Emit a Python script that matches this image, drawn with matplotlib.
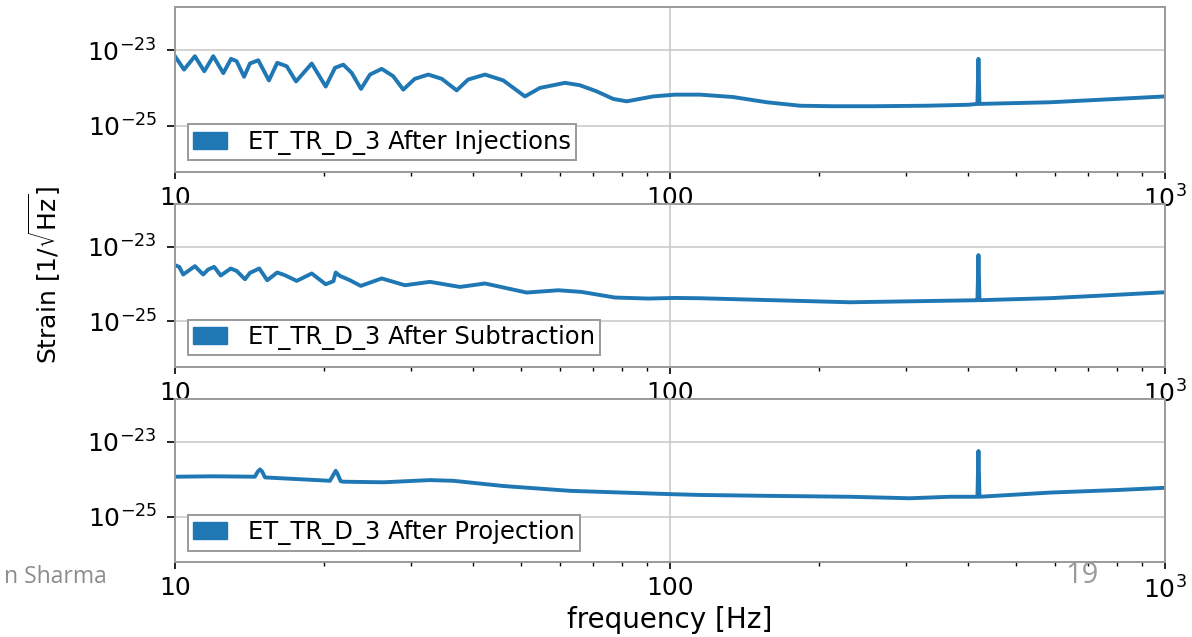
import matplotlib
matplotlib.use('Agg')
import matplotlib.pyplot as plt
from matplotlib.patches import Patch
from matplotlib.ticker import NullLocator

# frequency [Hz] / strain [1/sqrt(Hz)]
f_inj = [10, 10.43, 10.97, 11.46, 11.95, 12.52, 12.98, 13.32, 13.79, 14.17,
         14.73, 15.48, 16.09, 16.82, 17.56, 18.89, 20.16, 21.05, 21.88, 22.75,
         23.76, 24.77, 26.16, 27.6, 28.92, 30.5, 32.49, 34.6, 37.08, 39.1,
         42.3, 46.06, 50.94, 54.6, 61.38, 65.8, 71.1, 76.8, 81.75, 92.4,
         102.3, 115, 134, 157, 183, 213, 260, 330, 400, 418,
         420, 422, 586, 739, 1000]
h_inj = [7.05e-24, 3.1e-24, 7.05e-24, 2.8e-24, 7.05e-24, 2.5e-24, 6.0e-24, 5.2e-24, 2.0e-24, 4.5e-24,
         5.5e-24, 1.6e-24, 4.7e-24, 3.8e-24, 1.5e-24, 4.5e-24, 1.1e-24, 3.46e-24, 4.2e-24, 2.54e-24,
         9.5e-25, 2.29e-24, 3.25e-24, 2.07e-24, 9.1e-25, 1.76e-24, 2.29e-24, 1.76e-24, 8.7e-25, 1.69e-24,
         2.29e-24, 1.6e-24, 6.0e-25, 1.01e-24, 1.38e-24, 1.19e-24, 8.2e-25, 5.15e-25, 4.45e-25, 6.0e-25,
         6.7e-25, 6.7e-25, 5.8e-25, 4.2e-25, 3.4e-25, 3.3e-25, 3.3e-25, 3.4e-25, 3.6e-25, 3.8e-25,
         6.0e-24, 3.8e-25, 4.2e-25, 4.9e-25, 6.0e-25]

f_sub = [10, 10.2, 10.39, 10.97, 11.4, 11.67, 12.0, 12.37, 12.96, 13.32,
         13.85, 14.17, 14.8, 15.36, 16.09, 16.68, 17.62, 18.89, 20.16, 20.9,
         21.12, 21.54, 22.57, 23.73, 26.16, 29.15, 32.75, 37.65, 42.3, 51.34,
         59.5, 66.3, 77.4, 90.4, 102.3, 115, 231, 414, 418, 420,
         422, 586, 739, 1000]
h_sub = [3.22e-24, 2.9e-24, 1.81e-24, 3.03e-24, 1.81e-24, 2.47e-24, 2.9e-24, 1.7e-24, 2.62e-24, 2.26e-24,
         1.35e-24, 2.0e-24, 2.62e-24, 1.27e-24, 2.05e-24, 1.73e-24, 1.22e-24, 1.93e-24, 9.9e-25, 1.2e-24,
         2.05e-24, 1.66e-24, 1.27e-24, 8.95e-25, 1.42e-24, 9.33e-25, 1.15e-24, 8.4e-25, 1.04e-24, 5.94e-25,
         6.85e-25, 6.17e-25, 4.37e-25, 4.1e-25, 4.26e-25, 4.18e-25, 3.26e-25, 3.69e-25, 3.7e-25, 6.0e-24,
         3.7e-25, 4.2e-25, 4.9e-25, 6.05e-25]

f_proj = [10, 11.95, 14.5, 14.7, 14.85, 15.0, 15.2, 20.56, 20.95, 21.12,
          21.3, 21.61, 21.88, 26.35, 32.75, 36.49, 46.06, 62.8, 100, 115,
          157, 231, 305, 368, 418, 420, 422, 586, 800, 1000]
h_proj = [1.17e-24, 1.2e-24, 1.17e-24, 1.6e-24, 1.84e-24, 1.6e-24, 1.12e-24, 9.1e-25, 1.4e-24, 1.69e-24,
          1.4e-24, 8.9e-25, 8.6e-25, 8.3e-25, 9.5e-25, 9.1e-25, 6.6e-25, 4.9e-25, 4.0e-25, 3.8e-25,
          3.6e-25, 3.4e-25, 3.1e-25, 3.4e-25, 3.4e-25, 5.7e-24, 3.4e-25, 4.4e-25, 5.15e-25, 5.9e-25]

labels = ['ET_TR_D_3 After Injections',
          'ET_TR_D_3 After Subtraction',
          'ET_TR_D_3 After Projection']

xticks = [10, 100, 1000]
xticklabels = ['10', '100', r'$10^3$']
xminor = [20, 30, 40, 50, 60, 70, 80, 90, 200, 300, 400, 500, 600, 700, 800, 900]
yticks = [1e-25, 1e-23]

color = '#1f77b4'

fig = plt.figure(figsize=(11.92, 6.37), dpi=100)

# axes boxes [left, bottom, width, height] in figure fraction
boxes = [[0.1468, 0.7305, 0.8305, 0.2581],
         [0.1468, 0.4239, 0.8305, 0.2559],
         [0.1468, 0.1173, 0.8305, 0.2564]]
series = [(f_inj, h_inj), (f_sub, h_sub), (f_proj, h_proj)]

for box, (f, h), lab in zip(boxes, series, labels):
    ax = fig.add_axes(box)
    ax.plot(f, h, color=color, lw=2.8, solid_joinstyle='round')
    ax.set_xscale('log')
    ax.set_yscale('log')
    ax.set_xlim(10, 1000)
    ax.set_ylim(6.0e-27, 1.41e-22)

    ax.set_xticks(xticks)
    ax.set_xticklabels(xticklabels)
    ax.set_xticks(xminor, minor=True)
    ax.set_yticks(yticks)
    ax.yaxis.set_minor_locator(NullLocator())

    ax.tick_params(axis='x', which='major', direction='out', length=5, width=1.2,
                   labelsize=18, pad=5)
    ax.tick_params(axis='x', which='minor', direction='out', length=3, width=1.0)
    ax.tick_params(axis='y', which='major', direction='out', length=6, width=1.2,
                   labelsize=18, pad=7)

    ax.grid(True, which='major', color='#c8c8c8', lw=1.1)
    ax.set_axisbelow(True)
    for sp in ax.spines.values():
        sp.set_color('#9a9a9a')
        sp.set_linewidth(1.4)

    handle = Patch(facecolor=color, edgecolor=color)
    leg = ax.legend([handle], [lab], loc='lower left',
                    bbox_to_anchor=(0.0131, 0.071), borderaxespad=0,
                    fontsize=17.5, fancybox=False, framealpha=1,
                    edgecolor='#9a9a9a', handlelength=1.4, handleheight=0.7,
                    handletextpad=0.85, borderpad=0.22)
    leg.get_frame().set_linewidth(1.4)

fig.text(0.038, 0.568, r'Strain [$1/\sqrt{\mathrm{Hz}}$]', rotation=90,
         ha='center', va='center', fontsize=18)
fig.text(0.562, 0.027, 'frequency [Hz]', ha='center', va='center', fontsize=20)

# slide footer remnants
fig.text(0.0898, 0.094, 'n Sharma', ha='right', va='center', fontsize=16.5,
         color='#8c8c8c', family='Open Sans')
fig.text(0.9077, 0.0973, '19', ha='center', va='center', fontsize=21,
         color='#9a9a9a', family='Open Sans')

plt.savefig('out.png', dpi=100)
